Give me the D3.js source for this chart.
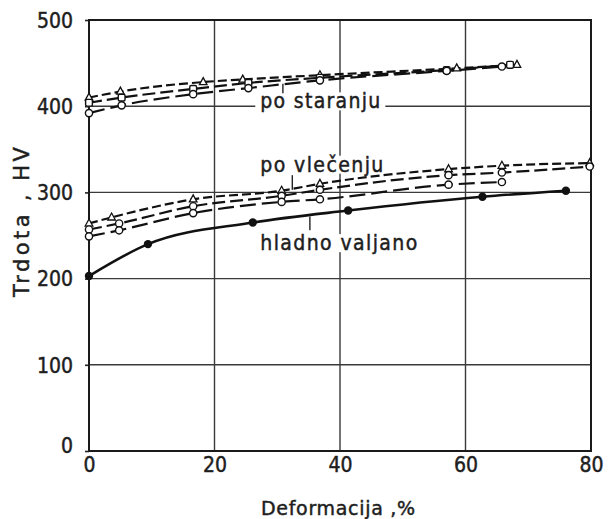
<!DOCTYPE html>
<html>
<head>
<meta charset="utf-8">
<script src="https://cdn.jsdelivr.net/npm/d3@7/dist/d3.min.js"></script>
<style>
  html, body { margin: 0; padding: 0; background: #fff; }
  svg { display: block; }
  text { font-family: "DejaVu Sans Condensed", "DejaVu Sans", "Liberation Sans", sans-serif; fill: #1e1e1e; stroke: #1e1e1e; stroke-width: 0.45; }
  text.title { font-family: "DejaVu Sans", "Liberation Sans", sans-serif; }
</style>
</head>
<body>
<div id="chart"></div>
<script>
// Hardness (HV) against deformation (%) for cold-rolled, drawn and aged states

const xTicks = [0, 20, 40, 60, 80];
const yTicks = [0, 100, 200, 300, 400, 500];

// cold rolled (solid line, filled dots)
const hladnoX = [0, 9.4, 26.1, 41.3, 62.7, 76.0];
const hladnoY = [203, 240, 265, 279, 295, 302];

// after drawing (three dashed runs)
const vlecenjeAX = [0, 3.6, 16.6, 30.7, 36.8, 57.3, 65.8, 79.8];
const vlecenjeAY = [264, 271, 292, 302, 310, 327, 331, 334];
const vlecenjeBX = [0, 4.8, 16.6, 30.7, 36.8, 57.3, 65.8, 79.8];
const vlecenjeBY = [257, 264, 284, 296, 303, 320, 323, 330];
const vlecenjeCX = [0, 4.8, 16.6, 30.7, 36.8, 57.3, 65.8];
const vlecenjeCY = [249, 256, 276, 289, 292, 309, 312];

// after ageing (three dashed runs)
const staranjeAX = [0, 5, 18.2, 24.5, 36.8, 58.6, 68.2];
const staranjeAY = [410, 417, 428, 431, 436, 444, 448];
const staranjeBX = [0, 5.2, 16.6, 25.4, 36.8, 57.0, 67.1];
const staranjeBY = [404, 410, 420, 427, 433, 442, 448];
const staranjeCX = [0, 5.2, 16.6, 25.4, 36.8, 57.0, 65.8];
const staranjeCY = [392, 401, 414, 421, 430, 441, 446];

const xLabel = "Deformacija ,%";
const yLabel = "Trdota , HV";

const W = 608, H = 519;
const M = { left: 89, right: 17, top: 20, bottom: 68 };

const svg = d3.select("#chart").append("svg")
  .attr("width", W).attr("height", H);

const x = d3.scaleLinear().domain([0, 80]).range([M.left, W - M.right]);
const y = d3.scaleLinear().domain([0, 500]).range([H - M.bottom, M.top]);

// grid
const grid = svg.append("g").attr("stroke", "#3a3a3a").attr("stroke-width", 1.4);
grid.selectAll("line.gx").data(xTicks.slice(1, -1)).join("line")
  .attr("x1", d => x(d)).attr("x2", d => x(d))
  .attr("y1", y(0)).attr("y2", y(500));
grid.selectAll("line.gy").data(yTicks.slice(1, -1)).join("line")
  .attr("x1", x(0)).attr("x2", x(80))
  .attr("y1", d => y(d)).attr("y2", d => y(d));

// y axis with short outward ticks
const yAxis = svg.append("g")
  .attr("transform", `translate(${x(0)},0)`)
  .call(d3.axisLeft(y).tickValues(yTicks).tickSize(4).tickPadding(12).tickSizeOuter(0));
yAxis.select(".domain").remove();
yAxis.selectAll("line").attr("stroke", "#222").attr("stroke-width", 1.6);
yAxis.selectAll("text").attr("font-size", 21).attr("fill", "#1e1e1e")
  .attr("dy", d => d === 0 ? "0.05em" : "0.35em");

// x axis labels
const xAxis = svg.append("g")
  .attr("transform", `translate(0,${y(0)})`)
  .call(d3.axisBottom(x).tickValues(xTicks).tickSize(0).tickPadding(6));
xAxis.select(".domain").remove();
xAxis.selectAll("text").attr("font-size", 21).attr("fill", "#1e1e1e");

// frame
svg.append("rect")
  .attr("x", x(0)).attr("y", y(500))
  .attr("width", x(80) - x(0)).attr("height", y(0) - y(500))
  .attr("fill", "none").attr("stroke", "#1a1a1a").attr("stroke-width", 2);

// axis titles
svg.append("text").attr("class", "title")
  .attr("x", 338).attr("y", 515)
  .attr("text-anchor", "middle").attr("font-size", 19)
  .attr("textLength", 154)
  .text(xLabel);
svg.append("text").attr("class", "title")
  .attr("transform", `translate(29,222) rotate(-90)`)
  .attr("text-anchor", "middle").attr("font-size", 21)
  .attr("textLength", 150)
  .text(yLabel);

// annotations (drawn over the grid, with a white backing)
const notes = [
  { text: "po staranju", x: 27.3, y: 397.5, len: 120, lead: [30.9, 426, 415] },
  { text: "po vlečenju", x: 27.3, y: 324, len: 123, lead: [32.4, 320, 303] },
  { text: "hladno valjano", x: 27.3, y: 233, len: 157, lead: [35.2, 272, 256] }
];
const noteLayer = svg.append("g");
notes.forEach(n => {
  const bg = noteLayer.append("rect").attr("fill", "#fff");
  const t = noteLayer.append("text")
    .attr("x", x(n.x)).attr("y", y(n.y))
    .attr("font-size", 21)
    .attr("textLength", n.len)
    .text(n.text);
  const bb = t.node().getBBox();
  bg.attr("x", bb.x - 5).attr("y", bb.y + 3)
    .attr("width", bb.width + 10).attr("height", bb.height - 6);
  noteLayer.append("line")
    .attr("x1", x(n.lead[0])).attr("x2", x(n.lead[0]))
    .attr("y1", y(n.lead[1])).attr("y2", y(n.lead[2]))
    .attr("stroke", "#222").attr("stroke-width", 1.4);
});

const zip = (xs, ys) => xs.map((v, i) => [v, ys[i]]);

const series = [
  { pts: zip(hladnoX, hladnoY), dash: null, mark: "dot" },
  { pts: zip(vlecenjeAX, vlecenjeAY), dash: "9,4", mark: "tri" },
  { pts: zip(vlecenjeBX, vlecenjeBY), dash: "13,5", mark: "circ" },
  { pts: zip(vlecenjeCX, vlecenjeCY), dash: "16,6", mark: "circ" },
  { pts: zip(staranjeAX, staranjeAY), dash: "9,4", mark: "tri" },
  { pts: zip(staranjeBX, staranjeBY), dash: "13,5", mark: "sq" },
  { pts: zip(staranjeCX, staranjeCY), dash: "16,6", mark: "circ" }
];

const line = d3.line()
  .x(d => x(d[0])).y(d => y(d[1]))
  .curve(d3.curveMonotoneX);

const lines = svg.append("g");
series.forEach(s => {
  lines.append("path")
    .attr("d", line(s.pts))
    .attr("fill", "none")
    .attr("stroke", "#111")
    .attr("stroke-width", s.dash ? 2.2 : 2.6)
    .attr("stroke-dasharray", s.dash);
});

const marks = svg.append("g");
series.forEach(s => {
  s.pts.forEach(p => {
    const cx = x(p[0]), cy = y(p[1]);
    if (s.mark === "dot") {
      marks.append("circle").attr("cx", cx).attr("cy", cy).attr("r", 4.2).attr("fill", "#111");
    } else if (s.mark === "circ") {
      marks.append("circle").attr("cx", cx).attr("cy", cy).attr("r", 3.6)
        .attr("fill", "#fff").attr("stroke", "#111").attr("stroke-width", 1.4);
    } else if (s.mark === "sq") {
      marks.append("rect").attr("x", cx - 3.4).attr("y", cy - 3.4).attr("width", 6.8).attr("height", 6.8)
        .attr("rx", 1.5).attr("fill", "#fff").attr("stroke", "#111").attr("stroke-width", 1.4);
    } else {
      marks.append("path")
        .attr("d", `M${cx},${cy - 4.4}L${cx + 3.8},${cy + 2.6}L${cx - 3.8},${cy + 2.6}Z`)
        .attr("fill", "#fff").attr("stroke", "#111").attr("stroke-width", 1.3);
    }
  });
});
</script>
</body>
</html>
